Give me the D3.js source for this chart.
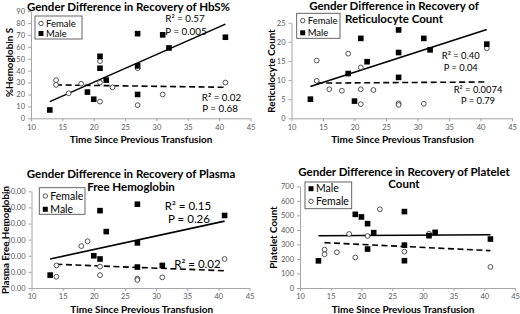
<!DOCTYPE html>
<html>
<head>
<meta charset="utf-8">
<script src="https://cdn.jsdelivr.net/npm/d3@7"></script>
<style>
  body { margin: 0; background: #fff; }
  svg { display: block; font-family: Lato, "Open Sans", sans-serif; }
</style>
</head>
<body>
<svg id="chart" width="520" height="314"></svg>
<script>
// shared x axis
const xTicks = [10, 15, 20, 25, 30, 35, 40, 45];

// HbS%
const hbsMaleX = [13, 19, 20, 21, 21, 22, 27, 27, 27, 31, 32, 41];
const hbsMaleY = [7, 22, 16, 52, 42, 32, 71, 44, 20, 70, 59, 68];
const hbsFemaleX = [14, 14, 16, 18, 21, 21, 21, 23, 27, 27, 31, 41];
const hbsFemaleY = [32, 28, 21, 29, 48, 30, 14, 26, 42, 11, 20, 30];
const hbsMaleTrendY = [14, 79];
const hbsFemaleTrendY = [28, 26];
const hbsTicks = [0, 10, 20, 30, 40, 50, 60, 70, 80, 90];

// Reticulocyte count
const retiMaleX = [13, 19, 20, 21, 22, 27, 27, 27, 31, 32, 41];
const retiMaleY = [5.0, 11.7, 4.5, 20.9, 14.8, 23.1, 17.2, 10.7, 20.9, 17.9, 19.4];
const retiFemaleX = [14, 14, 16, 18, 19, 21, 21, 21, 23, 27, 27, 31, 41];
const retiFemaleY = [15.1, 9.8, 7.6, 7.2, 16.9, 13.3, 7.6, 3.7, 7.4, 3.9, 3.5, 3.8, 18.3];
const retiMaleTrendY = [8.3, 23.2];
const retiFemaleTrendY = [9.2, 9.5];
const retiTicks = [0, 5, 10, 15, 20, 25];

// Plasma free hemoglobin
const plasmaMaleX = [13, 20, 21, 21, 22, 27, 27, 27, 31, 41];
const plasmaMaleY = [8, 20, 48, 18, 35, 52, 28, 13, 14, 45];
const plasmaFemaleX = [14, 14, 18, 19, 21, 21, 27, 27, 31, 41];
const plasmaFemaleY = [14, 7, 26, 29, 13.3, 8, 5.8, 5, 6.6, 18];
const plasmaMaleTrendY = [18, 41.5];
const plasmaFemaleTrendY = [14.7, 10.7];
const plasmaTicks = [0, 10, 20, 30, 40, 50, 60];

// Platelet count
const pltMaleX = [13, 19, 20, 21, 21, 22, 27, 27, 27, 31, 32, 41];
const pltMaleY = [187, 507, 489, 443, 268, 381, 526, 295, 188, 360, 383, 337];
const pltFemaleX = [14, 14, 16, 18, 19, 21, 23, 27, 31, 41];
const pltFemaleY = [264, 232, 246, 372, 210, 358, 542, 250, 374, 145];
const pltMaleTrendY = [360, 366];
const pltFemaleTrendY = [312, 257];
const pltTicks = [0, 100, 200, 300, 400, 500, 600, 700];

const svg = d3.select("#chart");

function zip(xs, ys) { return xs.map((v, i) => [v, ys[i]]); }

function drawPanel(p) {
  const g = svg.append("g");
  const x = d3.scaleLinear().domain([10, 45]).range(p.xr);
  const y = d3.scaleLinear().domain([p.yTicks[0], p.yTicks[p.yTicks.length - 1]]).range(p.yr);

  const xa = g.append("g")
    .attr("transform", `translate(0,${p.yr[0]})`)
    .call(d3.axisBottom(x).tickValues(xTicks).tickSize(3).tickSizeOuter(0).tickPadding(3));
  const ya = g.append("g")
    .attr("transform", `translate(${p.xr[0]},0)`)
    .call(d3.axisLeft(y).tickValues(p.yTicks).tickFormat(p.fmt).tickSize(3).tickSizeOuter(0).tickPadding(3));
  [xa, ya].forEach(a => {
    a.select(".domain").attr("stroke", "#a6a6a6");
    a.selectAll(".tick line").attr("stroke", "#a6a6a6");
    a.selectAll(".tick text").attr("fill", "#595959").style("font-size", "7.5px")
      .style("font-family", "Lato, sans-serif");
  });

  const line = d3.line().x(d => x(d[0])).y(d => y(d[1]));
  g.append("path").datum(zip(p.mTrendX, p.mTrendY)).attr("d", line)
    .attr("stroke", "#000").attr("stroke-width", 1.6).attr("fill", "none");
  g.append("path").datum(zip(p.fTrendX, p.fTrendY)).attr("d", line)
    .attr("stroke", "#000").attr("stroke-width", 1.6).attr("fill", "none")
    .attr("stroke-dasharray", "6,3.5");

  g.selectAll(".fem").data(zip(p.fX, p.fY)).enter().append("circle")
    .attr("cx", d => x(d[0])).attr("cy", d => y(d[1])).attr("r", 2.4)
    .attr("fill", "#fff").attr("stroke", "#404040").attr("stroke-width", 0.9);
  g.selectAll(".mal").data(zip(p.mX, p.mY)).enter().append("rect")
    .attr("x", d => x(d[0]) - 2.8).attr("y", d => y(d[1]) - 2.8)
    .attr("width", 5.6).attr("height", 5.6).attr("fill", "#000");

  // legend
  const lg = p.legend;
  g.append("rect").attr("x", lg.x).attr("y", lg.y).attr("width", lg.w).attr("height", lg.h)
    .attr("fill", "#fff").attr("stroke", "#555").attr("stroke-width", 0.9);
  lg.items.forEach((name, i) => {
    const cy = lg.y + lg.rows[i];
    const mx = lg.x + 6;
    if (name === "Male") {
      g.append("rect").attr("x", mx - 2.5).attr("y", cy - 2.5).attr("width", 5).attr("height", 5).attr("fill", "#000");
    } else {
      g.append("circle").attr("cx", mx).attr("cy", cy).attr("r", 2.2)
        .attr("fill", "#fff").attr("stroke", "#404040").attr("stroke-width", 0.9);
    }
    g.append("text").attr("x", mx + 5).attr("y", cy).attr("dy", "0.35em")
      .style("font-size", lg.fs + "px").attr("fill", "#000").text(name);
  });

  // titles
  p.title.forEach((t, i) => {
    g.append("text").attr("x", p.titleX).attr("y", p.titleY[i]).attr("text-anchor", "middle")
      .style("font-size", p.titleFs + "px").style("font-weight", "bold").text(t);
  });
  g.append("text").attr("x", p.xTitle[0]).attr("y", p.xTitle[1]).attr("text-anchor", "middle")
    .style("font-size", "10px").style("font-weight", "bold").text("Time Since Previous Transfusion");
  g.append("text").attr("transform", `translate(${p.yTitle[0]},${p.yTitle[1]}) rotate(-90)`)
    .attr("text-anchor", "middle").style("font-size", "9.8px").style("font-weight", "bold").text(p.yLabel);

  // stats
  p.notes.forEach(n => {
    g.append("text").attr("x", n[0]).attr("y", n[1]).attr("text-anchor", "middle")
      .style("font-size", p.noteFs + "px").attr("fill", "#000").text(n[2]);
  });
}

drawPanel({
  xr: [31, 250.5], yr: [118.3, 11], yTicks: hbsTicks, fmt: d3.format("d"),
  mX: hbsMaleX, mY: hbsMaleY, fX: hbsFemaleX, fY: hbsFemaleY,
  mTrendX: [13, 41], mTrendY: hbsMaleTrendY, fTrendX: [14, 41], fTrendY: hbsFemaleTrendY,
  legend: { x: 35, y: 16, w: 47, h: 23, rows: [7.5, 17.5], fs: 9.5, items: ["Female", "Male"] },
  title: ["Gender Difference in Recovery of HbS%"], titleX: 128.5, titleY: [10.5], titleFs: 11.5,
  xTitle: [141, 143.3], yTitle: [12.5, 62.5], yLabel: "%Hemoglobin S",
  noteFs: 9.8,
  notes: [[185, 21.5, "R² = 0.57"], [186, 34.5, "P = 0.005"], [221.5, 100.5, "R² = 0.02"], [220, 111.5, "P = 0.68"]]
});

drawPanel({
  xr: [291.5, 512], yr: [118.3, 22.7], yTicks: retiTicks, fmt: d3.format("d"),
  mX: retiMaleX, mY: retiMaleY, fX: retiFemaleX, fY: retiFemaleY,
  mTrendX: [13, 41], mTrendY: retiMaleTrendY, fTrendX: [14, 41], fTrendY: retiFemaleTrendY,
  legend: { x: 296.7, y: 13.3, w: 43.3, h: 25, rows: [7.3, 19.5], fs: 9.5, items: ["Female", "Male"] },
  title: ["Gender Difference in Recovery of", "Reticulocyte Count"], titleX: 394, titleY: [10.3, 22.5], titleFs: 11.5,
  xTitle: [402.5, 143.3], yTitle: [275, 71], yLabel: "Reticulocyte Count",
  noteFs: 9.4,
  notes: [[460.7, 58.5, "R² = 0.40"], [460.7, 70.5, "P = 0.04"], [478, 92.5, "R² = 0.0074"], [478, 104, "P = 0.79"]]
});

drawPanel({
  xr: [31.5, 249.5], yr: [288, 191.3], yTicks: plasmaTicks, fmt: d3.format(".2f"),
  mX: plasmaMaleX, mY: plasmaMaleY, fX: plasmaFemaleX, fY: plasmaFemaleY,
  mTrendX: [13, 41], mTrendY: plasmaMaleTrendY, fTrendX: [14, 41], fTrendY: plasmaFemaleTrendY,
  legend: { x: 39.3, y: 187.7, w: 45.7, h: 26.6, rows: [8.3, 21.6], fs: 10.5, items: ["Female", "Male"] },
  title: ["Gender Difference in Recovery of Plasma", "Free Hemoglobin"], titleX: 131, titleY: [177.5, 190.8], titleFs: 11.5,
  xTitle: [141.7, 312.5], yTitle: [8.5, 240], yLabel: "Plasma Free Hemoglobin",
  noteFs: 11.5,
  notes: [[188, 209.5, "R² = 0.15"], [189, 223, "P = 0.26"], [197.5, 268, "R² = 0.02"]]
});

drawPanel({
  xr: [300, 515], yr: [288, 186.3], yTicks: pltTicks, fmt: d3.format("d"),
  mX: pltMaleX, mY: pltMaleY, fX: pltFemaleX, fY: pltFemaleY,
  mTrendX: [13, 41], mTrendY: pltMaleTrendY, fTrendX: [14, 41], fTrendY: pltFemaleTrendY,
  legend: { x: 305, y: 182, w: 46.7, h: 26.7, rows: [6.7, 19.3], fs: 10.5, items: ["Male", "Female"] },
  title: ["Gender Difference in Recovery of Platelet", "Count"], titleX: 404, titleY: [175.8, 188.2], titleFs: 11.5,
  xTitle: [403, 312.5], yTitle: [277, 237.5], yLabel: "Platelet Count",
  noteFs: 9.8,
  notes: []
});
</script>
</body>
</html>
